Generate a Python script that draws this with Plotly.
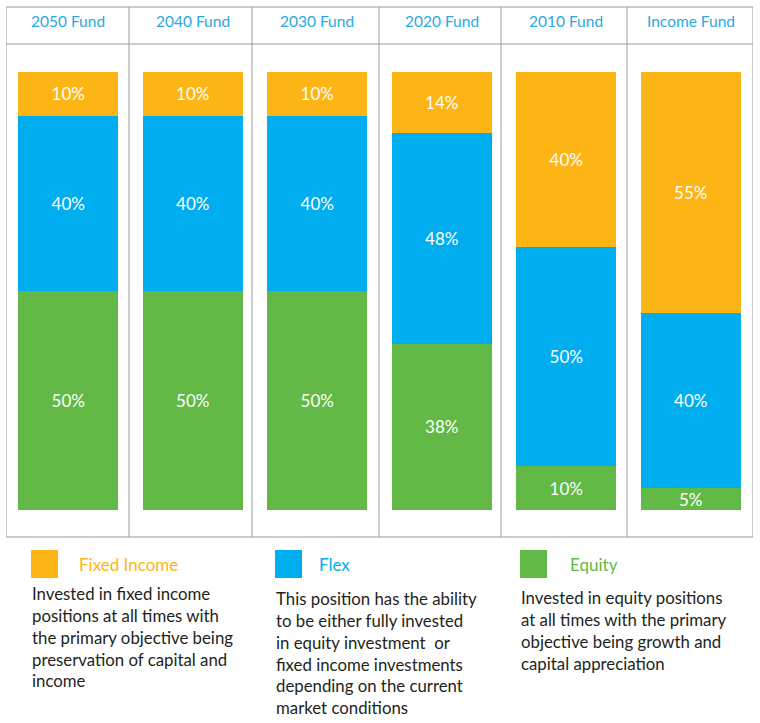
import plotly.graph_objects as go

funds = ["2050 Fund", "2040 Fund", "2030 Fund", "2020 Fund", "2010 Fund", "Income Fund"]
equity = [50, 50, 50, 38, 10, 5]
flex = [40, 40, 40, 48, 50, 40]
fixed_income = [10, 10, 10, 14, 40, 55]

colors = {"Fixed Income": "#FDB515", "Flex": "#00AEEF", "Equity": "#62B946"}
descriptions = {
    "Fixed Income": "Invested in fixed income<br>positions at all times with<br>the primary objective being<br>preservation of capital and<br>income",
    "Flex": "This position has the ability<br>to be either fully invested<br>in equity investment  or<br>fixed income investments<br>depending on the current<br>market conditions",
    "Equity": "Invested in equity positions<br>at all times with the primary<br>objective being growth and<br>capital appreciation",
}

W, H = 760, 723
L, R, T, B = 6, 7, 72, 213
PW = W - L - R
PH = H - T - B
NCOL = len(funds)


def px(x):
    return (x - L) / PW


def py(y):
    return (H - B - y) / PH


def dx(x):
    # pixel x -> data x on the category axis
    return (x - L) / PW * NCOL - 0.5


FONT = "Lato"
fig = go.Figure()
xs = list(range(NCOL))
for name, vals in [("Equity", equity), ("Flex", flex), ("Fixed Income", fixed_income)]:
    fig.add_trace(go.Bar(
        x=xs, y=vals, name=name,
        marker=dict(color=colors[name], line=dict(width=0)),
        width=0.8,
        text=[f"{v}%" for v in vals],
        textposition="inside", insidetextanchor="middle", textangle=0,
        constraintext="none",
        textfont=dict(color="white", size=17, family=FONT),
        hoverinfo="skip", showlegend=False,
    ))

shapes = []
line = dict(color="#9A9A9A", width=1)
separators_px = [6, 129, 252, 379, 501, 627, 753]
for sxp in separators_px:
    shapes.append(dict(type="line", xref="x", yref="paper", x0=dx(sxp), x1=dx(sxp),
                       y0=py(537), y1=py(7), line=line))
for yy in (7, 44, 537):
    shapes.append(dict(type="line", xref="x", yref="paper", x0=dx(6), x1=dx(753),
                       y0=py(yy), y1=py(yy), line=line))

annotations = []
for i, f in enumerate(funds):
    annotations.append(dict(x=i, y=py(21), xref="x", yref="paper", text=f, showarrow=False,
                            font=dict(color="#2AA9E0", size=15.5, family=FONT),
                            xanchor="center", yanchor="middle"))

legend_pos = {
    "Fixed Income": (31, 77, 581),
    "Flex": (275, 317, 586),
    "Equity": (520, 568, 585),
}
for name in ["Fixed Income", "Flex", "Equity"]:
    sx, tx, ty = legend_pos[name]
    shapes.append(dict(type="rect", xref="paper", yref="paper", x0=px(sx), x1=px(sx + 27),
                       y0=py(578), y1=py(550), fillcolor=colors[name], line=dict(width=0)))
    annotations.append(dict(x=px(tx), y=py(564), xref="paper", yref="paper", text=name,
                            showarrow=False, xanchor="left", yanchor="middle",
                            font=dict(color=colors[name], size=17, family=FONT)))
    annotations.append(dict(x=px(sx - 1), y=py(ty), xref="paper", yref="paper",
                            text=descriptions[name], showarrow=False, xanchor="left",
                            yanchor="top", align="left",
                            font=dict(color="#231F20", size=16.8, family=FONT)))

fig.update_layout(
    width=W, height=H, barmode="stack",
    margin=dict(l=L, r=R, t=T, b=B),
    plot_bgcolor="white", paper_bgcolor="white",
    xaxis=dict(range=[-0.5, NCOL - 0.5], visible=False, fixedrange=True),
    yaxis=dict(range=[0, 100], visible=False, fixedrange=True),
    shapes=shapes, annotations=annotations,
    font=dict(family=FONT),
)
fig.write_html("out.html", config={"displayModeBar": False},
               post_script="document.body.style.margin='0';document.body.style.overflow='hidden';")
